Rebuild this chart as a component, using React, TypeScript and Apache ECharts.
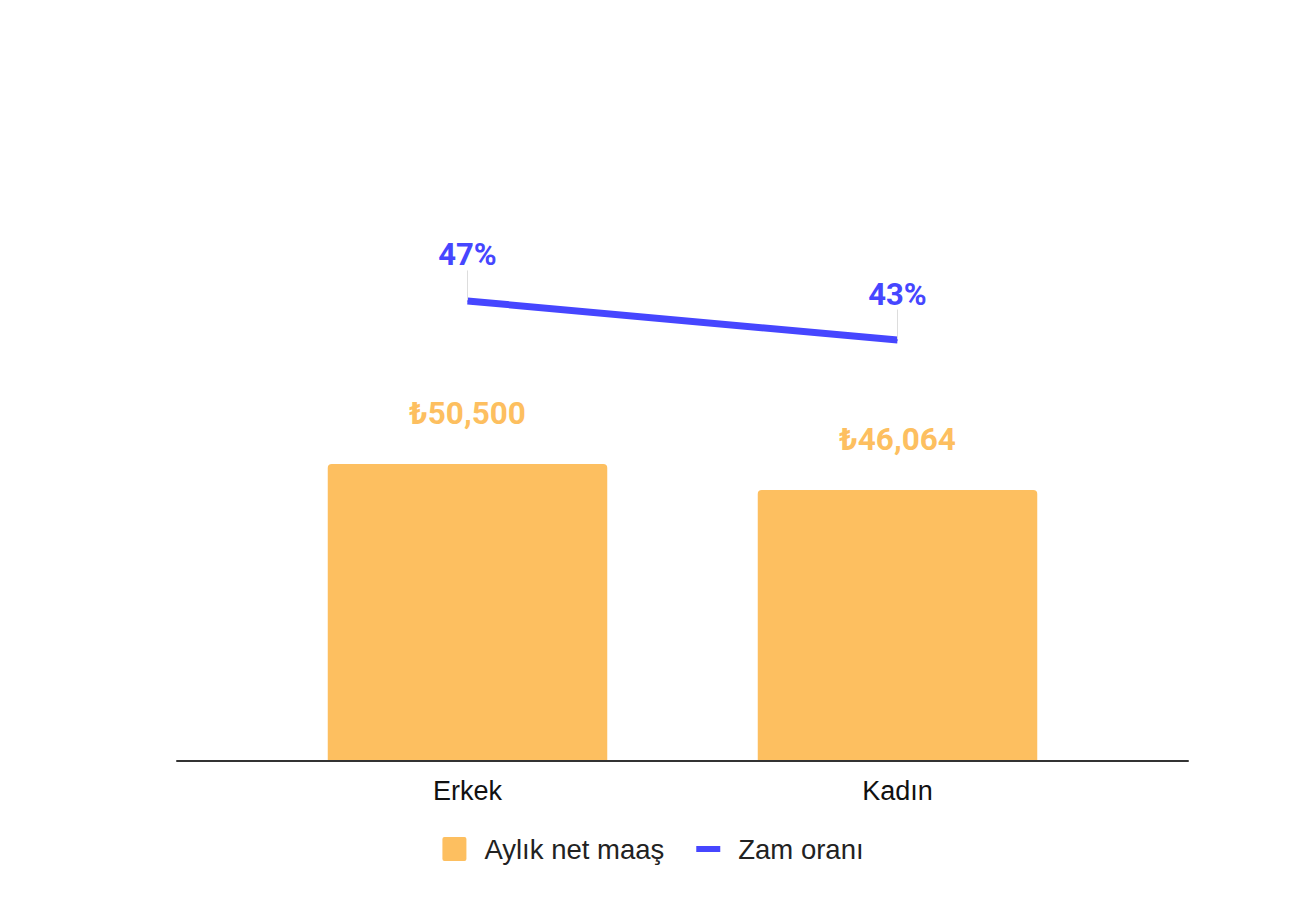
import React, { useEffect, useRef } from "react";
import * as echarts from "echarts";

const categories = ["Erkek", "Kadın"];
const salary = [50500, 46064];
const raiseRate = [0.47, 0.43];
const seriesNames = ["Aylık net maaş", "Zam oranı"];

const ORANGE = "#fdbf60";
const BLUE = "#4646ff";

export default function App() {
  const ref = useRef<HTMLDivElement>(null);
  useEffect(() => {
    document.body.style.margin = "0";
    const chart = echarts.init(ref.current!, null, { renderer: "svg" });
    chart.setOption({
      animation: false,
      backgroundColor: "#ffffff",
      grid: [
        { left: 252.5, right: 193.5, top: 174, bottom: 148 },
        { left: 177, right: 118, top: 174, bottom: 147 },
      ],
      legend: {
        bottom: 40,
        left: "center",
        itemWidth: 24,
        itemHeight: 24,
        itemGap: 32,
        textStyle: {
          fontFamily: "Liberation Sans",
          fontSize: 27.5,
          color: "#222",
          padding: [0, 0, 0, 13],
        },
        data: [
          { name: seriesNames[0], icon: "path://M2,0h20a2,2 0 0 1 2,2v20a2,2 0 0 1 -2,2h-20a2,2 0 0 1 -2,-2v-20a2,2 0 0 1 2,-2z" },
          { name: seriesNames[1], icon: "path://M0,9h24v6h-24z", itemStyle: { color: BLUE } },
        ],
      },
      xAxis: [
        {
          type: "category",
          gridIndex: 0,
          data: categories,
          axisLine: { show: false },
          axisTick: { show: false },
          axisLabel: {
            margin: 17,
            fontFamily: "Liberation Sans",
            fontSize: 27,
            color: "#111",
          },
        },
        {
          type: "value",
          gridIndex: 1,
          min: 0,
          max: 1,
          axisLine: { show: true, lineStyle: { color: "#333", width: 2 } },
          axisTick: { show: false },
          axisLabel: { show: false },
          splitLine: { show: false },
        },
      ],
      yAxis: [
        { type: "value", gridIndex: 0, min: 0, max: 100000, show: false },
        { type: "value", gridIndex: 0, min: 0, max: 0.6, show: false },
        { type: "value", gridIndex: 1, min: 0, max: 1, show: false },
      ],
      series: [
        {
          name: seriesNames[0],
          type: "bar",
          xAxisIndex: 0,
          yAxisIndex: 0,
          data: salary,
          barWidth: "65%",
          itemStyle: { color: ORANGE, borderRadius: [4, 4, 0, 0] },
          label: {
            show: true,
            position: "top",
            distance: 35,
            fontFamily: "Roboto",
            fontWeight: "bold",
            fontSize: 31.5,
            color: ORANGE,
            formatter: (p: any) => "₺" + Number(p.value).toLocaleString("en-US"),
          },
          z: 2,
        },
        {
          name: seriesNames[1],
          type: "line",
          xAxisIndex: 0,
          yAxisIndex: 1,
          data: raiseRate,
          symbol: "circle",
          symbolSize: 1,
          showSymbol: true,
          lineStyle: { color: BLUE, width: 7, cap: "butt" },
          itemStyle: { color: BLUE },
          label: {
            show: true,
            position: "top",
            distance: 5,
            fontFamily: "Roboto",
            fontWeight: "bold",
            fontSize: 31,
            color: BLUE,
            formatter: (p: any) => Math.round(p.value * 100) + "%",
          },
          labelLayout: { dy: -25 },
          labelLine: { show: true, lineStyle: { color: "#dddddd", width: 1 } },
          z: 3,
        },
      ],
    });
    return () => chart.dispose();
  }, []);
  return <div ref={ref} style={{ width: 1306, height: 908 }} />;
}
